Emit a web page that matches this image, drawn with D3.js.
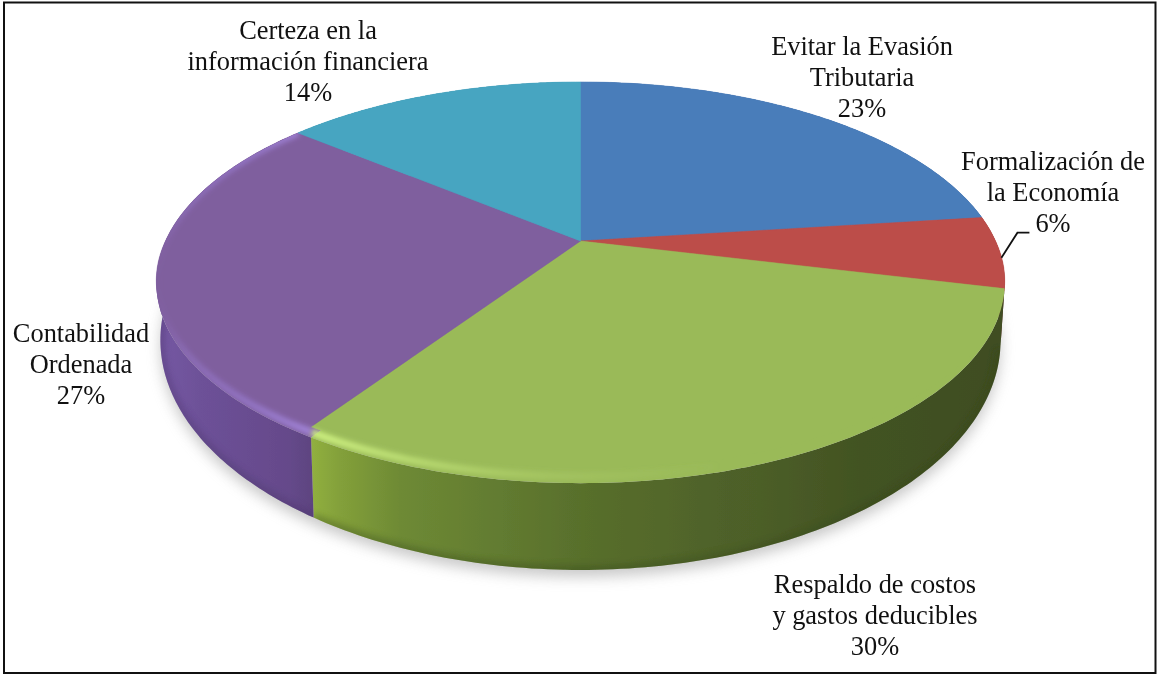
<!DOCTYPE html>
<html>
<head>
<meta charset="utf-8">
<script src="https://cdn.jsdelivr.net/npm/d3@7"></script>
<style>html,body{margin:0;padding:0;background:#fff;overflow:hidden}</style>
</head>
<body>
<script>
const categories = [
  ["Evitar la Evasión", "Tributaria"],
  ["Formalización de", "la Economía"],
  ["Respaldo de costos", "y gastos deducibles"],
  ["Contabilidad", "Ordenada"],
  ["Certeza en la", "información financiera"]
];
const values = [23, 6, 30, 27, 14];
const faceColors = ["#4a7dba", "#bc4d4a", "#9aba59", "#7f5f9e", "#46a5c1"];
const labelAnchors = [[862, 55], [1053, 170], [875, 593], [81, 342], [308, 39]];

const W = 1157, H = 675, lineGap = 30.8, fontSize = 26.4;
const depthView = 4.83;
const cy0 = 241;
const project = (theta, r) => {
  const u = r * Math.sin(theta), v = -r * Math.cos(theta), f = depthView / (depthView - v);
  return [u * f, v * f];
};
const topX = d3.scaleLinear([-1, 1], [580.5 - 415, 580.5 + 415]);
const topY = d3.scaleLinear([-1, 1], [cy0 - 192, cy0 + 192]);
const botX = d3.scaleLinear([-1, 1], [580.5 - 411, 580.5 + 411]);
const botY = d3.scaleLinear([-1, 1], [292.5 - 220, 292.5 + 220]);
const rimTop = (t, r = 1) => { const p = project(t, r); return [topX(p[0]), topY(p[1])]; };
const rimBot = (t, r = 1) => { const p = project(t, r); return [botX(p[0]), botY(p[1])]; };
// the flat face stops short of the rim on the viewer's side, leaving a rounded bevel band
const squeeze = k => p => [p[0], p[1] > cy0 ? cy0 + (p[1] - cy0) * k : p[1]];
const inner = squeeze(0.946), mid = squeeze(0.972);
const sweep = (a, b) => d3.range(0, 121).map(i => a + (b - a) * i / 120);
const line = d3.line();

const arcs = d3.pie().sort(null).value(d => d).startAngle(0).endAngle(2 * Math.PI)(values);

const svg = d3.select("body").append("svg").attr("width", W).attr("height", H)
  .style("display", "block");
svg.append("rect").attr("width", W).attr("height", H).attr("fill", "#fff");
svg.append("rect").attr("x", 4).attr("y", 2.5).attr("width", 1151.5).attr("height", 670.5)
  .attr("fill", "none").attr("stroke", "#111").attr("stroke-width", 2);

const defs = svg.append("defs");
const blur = (id, s) => defs.append("filter").attr("id", id)
  .attr("x", "-20%").attr("y", "-20%").attr("width", "140%").attr("height", "140%")
  .append("feGaussianBlur").attr("stdDeviation", s);
blur("b8", 7); blur("b3", 3.2); blur("b2", 2.4); blur("b1", 0.7);

const hGrad = (id, stops) => {
  const g = defs.append("linearGradient").attr("id", id).attr("gradientUnits", "userSpaceOnUse")
    .attr("x1", 150).attr("x2", 1010).attr("y1", 0).attr("y2", 0);
  stops.forEach(s => g.append("stop").attr("offset", (s[0] - 150) / 860).attr("stop-color", s[1]).attr("stop-opacity", s[2] === undefined ? 1 : s[2]));
};
hGrad("sideGreen", [[309, "#92b140"], [340, "#83a03a"], [400, "#6e8a35"], [583, "#586f2c"], [760, "#4c5e28"], [860, "#425322"], [1004, "#3f4d21"]]);
hGrad("sidePurple", [[157, "#7658a4"], [200, "#6d5198"], [290, "#65498a"], [312, "#5d4480"]]);
hGrad("sideRed", [[960, "#8c3836"], [1005, "#5a2422"]]);
hGrad("sideBlue", [[580, "#2f5480"], [1005, "#2f5480"]]);
hGrad("sideTeal", [[290, "#2f7588"], [580, "#2f7588"]]);
hGrad("hiGreen", [[309, "#d2f584", .95], [420, "#c4e67a", .7], [560, "#b8d870", .3], [720, "#b0d068", 0], [1004, "#b0d068", 0]]);
hGrad("hiPurple", [[157, "#9a7cd2", 0], [185, "#9a7cd2", .4], [250, "#9a7cd2", .7], [308, "#a486dc", .9]]);

const sideFills = ["url(#sideBlue)", "url(#sideRed)", "url(#sideGreen)", "url(#sidePurple)", "url(#sideTeal)"];
const hiFills = [null, null, "url(#hiGreen)", "url(#hiPurple)", null];
const lowEdge = [null, null, "#35461a", "#4a3568", null];

const full = sweep(0, 2 * Math.PI);
defs.append("clipPath").attr("id", "faceClip").append("path")
  .attr("d", line(full.map(t => rimTop(t))) + "Z");

const pie = svg.append("g").attr("filter", "url(#b1)");

// soft ground shadow
svg.insert("path", "g").attr("d", line(full.map(t => {
  const p = rimBot(t); return [p[0], p[1] + 7];
})) + "Z").attr("fill", "#9d9d9d").attr("opacity", 0.55).attr("filter", "url(#b8)");

// side wall
arcs.forEach((a, i) => {
  const ts = sweep(a.startAngle, a.endAngle);
  const wall = ts.map(t => rimTop(t)).concat(ts.slice().reverse().map(t => rimBot(t)));
  const id = "wall" + i;
  defs.append("clipPath").attr("id", id).append("path").attr("d", line(wall) + "Z");
  pie.append("path").attr("class", "wall").attr("d", line(wall) + "Z").attr("fill", sideFills[i]);
  if (lowEdge[i]) {
    pie.append("g").attr("clip-path", `url(#${id})`).append("path")
      .attr("d", line(ts.map(t => rimBot(t))))
      .attr("fill", "none").attr("stroke", lowEdge[i]).attr("stroke-width", 9)
      .attr("opacity", 0.35).attr("filter", "url(#b3)");
  }
});

// bevel band, full rim
arcs.forEach((a, i) => {
  const ts = sweep(a.startAngle, a.endAngle);
  const poly = [rimTop(0, 0)].concat(ts.map(t => rimTop(t)));
  pie.append("path").attr("class", "band").attr("d", line(poly) + "Z").attr("fill", faceColors[i]);
});

// flat top face
arcs.forEach((a, i) => {
  const ts = sweep(a.startAngle, a.endAngle);
  const poly = [rimTop(0, 0)].concat(ts.map(t => inner(rimTop(t))));
  pie.append("path").attr("class", "slice").attr("d", line(poly) + "Z")
    .attr("fill", faceColors[i]).attr("stroke", faceColors[i]).attr("stroke-width", 0.5);
});

// rim highlight
arcs.forEach((a, i) => {
  if (!hiFills[i]) return;
  const ts = sweep(a.startAngle, a.endAngle);
  pie.append("g").attr("clip-path", "url(#faceClip)").append("path")
    .attr("d", line(ts.map(t => mid(rimTop(t)))))
    .attr("fill", "none").attr("stroke", hiFills[i]).attr("stroke-width", 7)
    .attr("filter", "url(#b2)");
});

// labels
const labels = svg.append("g").attr("font-family", "'Liberation Serif','Times New Roman',serif")
  .attr("font-size", fontSize).attr("fill", "#111").attr("text-anchor", "middle");
categories.forEach((c, i) => {
  const rows = c.concat([values[i] + "%"]);
  const t = labels.append("text");
  rows.forEach((r, k) => t.append("tspan")
    .attr("x", labelAnchors[i][0])
    .attr("y", labelAnchors[i][1] + k * lineGap)
    .text(r));
});

// leader line for the small slice
const redArc = arcs[1];
const lp = rimTop(redArc.startAngle + 0.56 * (redArc.endAngle - redArc.startAngle));
svg.append("path").attr("d", line([lp, [lp[0] + 16, lp[1] - 25], [lp[0] + 28, lp[1] - 25]]))
  .attr("fill", "none").attr("stroke", "#111").attr("stroke-width", 1.8);
</script>
</body>
</html>
